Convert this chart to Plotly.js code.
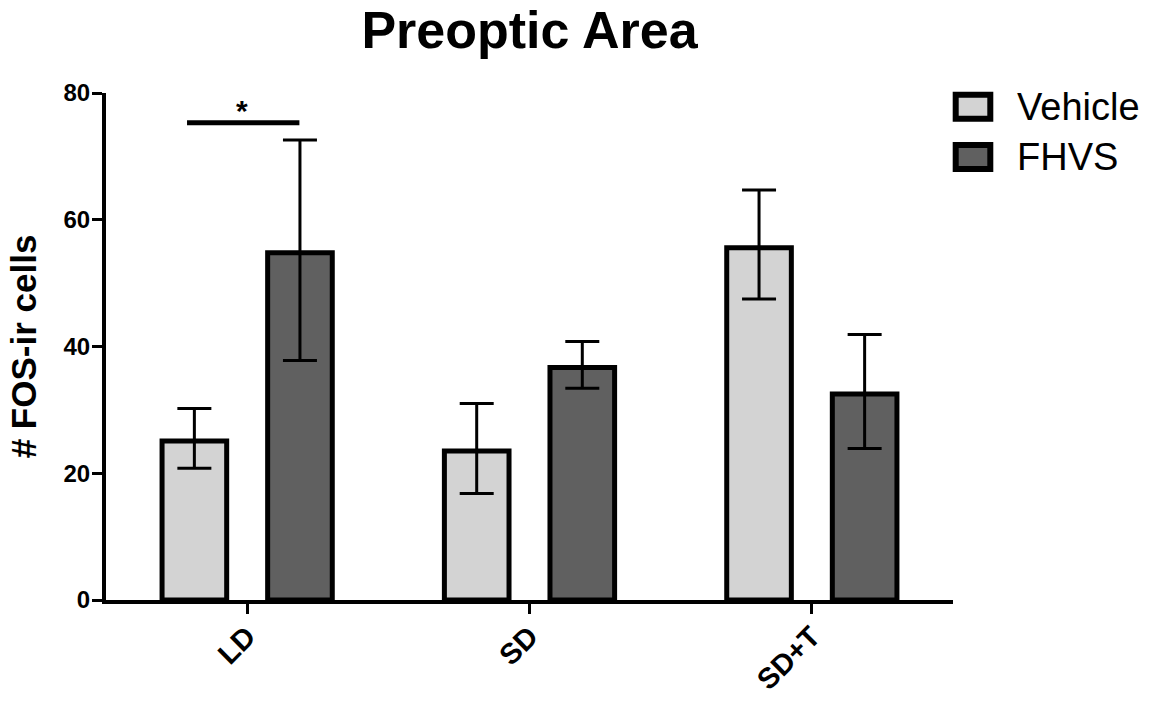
<!DOCTYPE html>
<html>
<head>
<meta charset="utf-8">
<script src="https://cdn.plot.ly/plotly-3.0.1.min.js"></script>
<style>
  html, body { margin: 0; padding: 0; background: #ffffff; }
  #chart { width: 1156px; height: 706px; }
</style>
</head>
<body>
<div id="chart"></div>
<script>
// ---- Data ----
const categories = ['LD', 'SD', 'SD+T'];
const seriesNames = ['Vehicle', 'FHVS'];
const vehicleMeans = [25.1, 23.5, 55.6];
const vehicleErrUp = [5.1, 7.5, 9.1];
const vehicleErrDown = [4.3, 6.7, 8.1];
const fhvsMeans = [54.8, 36.7, 32.5];
const fhvsErrUp = [17.8, 4.1, 9.4];
const fhvsErrDown = [17.0, 3.3, 8.6];
const yTickValues = [0, 20, 40, 60, 80];
const significanceLevel = 75.3;
const significanceLabel = '*';
const chartTitle = 'Preoptic Area';
const yTitle = '# FOS-ir cells';

// ---- Styling ----
const seriesColors = ['#d3d3d3', '#606060'];
const FONT = '"Liberation Sans", Arial, Helvetica, sans-serif';

// plot area in pixels
const L = 106, R = 953, T = 93, B = 600;
const W = 1156, H = 706;
const px2paperX = p => (p - L) / (R - L);
const px2paperY = p => (B - p) / (B - T);

function barTrace(name, means, up, down, color) {
  return {
    type: 'bar',
    name: name,
    x: categories,
    y: means,
    marker: { color: color, line: { color: '#000000', width: 5 } },
    error_y: { type: 'data', symmetric: false, array: up, arrayminus: down, visible: true,
               color: '#000000', thickness: 3, width: 17 },
    showlegend: false,
    hoverinfo: 'x+y+name'
  };
}

const data = [
  barTrace(seriesNames[0], vehicleMeans, vehicleErrUp, vehicleErrDown, seriesColors[0]),
  barTrace(seriesNames[1], fhvsMeans, fhvsErrUp, fhvsErrDown, seriesColors[1])
];

// custom legend (large outlined boxes, like the reference)
const legendBoxes = [
  { x0: 955.7, x1: 990.3, y0: 94.7, y1: 118.7, ty: 106.5 },
  { x0: 955.7, x1: 990.3, y0: 145, y1: 169, ty: 157 }
];
const shapes = [];
const annotations = [];
legendBoxes.forEach((b, i) => {
  shapes.push({
    type: 'rect', xref: 'paper', yref: 'paper',
    x0: px2paperX(b.x0), x1: px2paperX(b.x1),
    y0: px2paperY(b.y1), y1: px2paperY(b.y0),
    fillcolor: seriesColors[i], line: { color: '#000000', width: 6 }
  });
  annotations.push({
    xref: 'paper', yref: 'paper',
    x: px2paperX(1015), y: px2paperY(b.ty),
    xanchor: 'left', yanchor: 'middle',
    text: seriesNames[i], showarrow: false,
    font: { family: FONT, size: 38, color: '#000000' }
  });
});

// significance bar between LD groups
shapes.push({
  type: 'line', xref: 'x', yref: 'y',
  x0: -0.213, x1: 0.185, y0: significanceLevel, y1: significanceLevel,
  line: { color: '#000000', width: 5 }
});
annotations.push({
  xref: 'x', yref: 'y', x: -0.02, y: significanceLevel,
  xanchor: 'center', yanchor: 'bottom', yshift: -6,
  text: significanceLabel, showarrow: false,
  font: { family: FONT, size: 30, color: '#000000', weight: 'bold' }
});

const layout = {
  width: W, height: H,
  paper_bgcolor: '#ffffff', plot_bgcolor: '#ffffff',
  margin: { l: L, r: W - R, t: T, b: H - B, pad: 0 },
  font: { family: FONT, color: '#000000' },
  title: {
    text: '<b>' + chartTitle + '</b>',
    font: { family: FONT, size: 52, color: '#000000' },
    x: 0.5, xref: 'paper', xanchor: 'center',
    y: 1 - 29.5 / H, yref: 'container', yanchor: 'middle'
  },
  barmode: 'group',
  bargap: 0.252,
  bargroupgap: 0.388,
  showlegend: false,
  xaxis: {
    type: 'category',
    range: [-0.5, 2.5],
    showline: true, linecolor: '#000000', linewidth: 4,
    ticks: 'outside', ticklen: 10, tickwidth: 3, tickcolor: '#000000',
    tickangle: -45,
    ticklabelstandoff: -6,
    tickfont: { family: FONT, size: 29, color: '#000000', weight: 'bold' },
    showgrid: false, zeroline: false, fixedrange: true
  },
  yaxis: {
    range: [0, 80],
    tickvals: yTickValues,
    ticktext: yTickValues.map(String),
    showline: true, linecolor: '#000000', linewidth: 4,
    ticks: 'outside', ticklen: 10, tickwidth: 3, tickcolor: '#000000',
    ticklabelstandoff: -3,
    tickfont: { family: FONT, size: 24, color: '#000000', weight: 'bold' },
    showgrid: false, zeroline: false, fixedrange: true,
    title: {
      text: '<b>' + yTitle + '</b>',
      font: { family: FONT, size: 35, color: '#000000' },
      standoff: 17
    },
    automargin: false
  },
  shapes: shapes,
  annotations: annotations
};

Plotly.newPlot('chart', data, layout, { displayModeBar: false });
</script>
</body>
</html>
